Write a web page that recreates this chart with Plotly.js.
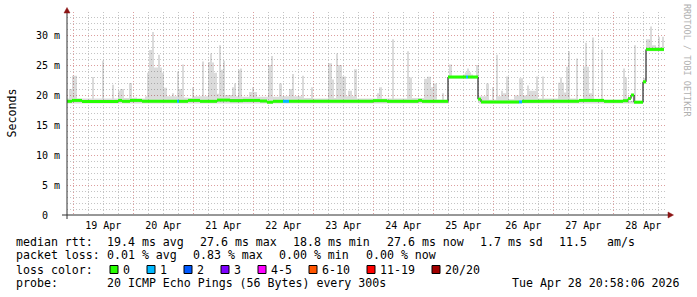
<!DOCTYPE html>
<html><head><meta charset="utf-8">
<script src="https://cdn.plot.ly/plotly-3.0.1.min.js"></script>
<style>html,body{margin:0;padding:0;background:#fff}#chart{width:697px;height:297px}</style>
</head><body><div id="chart"></div>
<script>
// ---------------- data ----------------
const windowStartUTC = Date.UTC(2026, 3, 18, 21, 29); // left edge of the 10-day window
const windowDays = 10;

// smoke (spread of the 20 pings) : segment edges in hours from window start
const smokeEdgeH = [
  0, 0.8, 2.0, 4.0, 10.0, 10.8, 14.0, 14.8, 18.0, 18.8,
  20.4, 21.2, 22.8, 24.8, 26.0, 26.8, 28.0, 31.2, 32.0, 32.8,
  34.0, 34.8, 36.4, 37.2, 38.0, 38.8, 40.0, 42.0, 42.8, 44.0,
  44.8, 46.0, 46.8, 48.4, 50.0, 50.8, 54.0, 54.8, 56.4, 57.2,
  58.0, 58.8, 60.0, 60.8, 61.6, 62.4, 63.2, 66.0, 66.8, 67.6,
  68.4, 69.2, 70.0, 72.8, 74.0, 74.8, 76.0, 80.4, 81.6, 82.4,
  84.8, 86.0, 88.8, 90.0, 90.8, 94.0, 94.8, 97.6, 98.4, 104.4,
  106.0, 106.8, 107.6, 108.4, 110.0, 111.6, 112.4, 114.0, 114.8, 116.0,
  124.0, 124.8, 126.0, 130.0, 130.8, 136.0, 136.8, 138.0, 142.8, 144.0,
  145.6, 146.4, 148.0, 150.0, 150.8, 152.8, 154.0, 158.4, 159.2, 160.0,
  160.8, 161.6, 162.4, 163.6, 164.8, 167.6, 168.8, 170.0, 170.8, 171.6,
  172.4, 173.6, 174.4, 175.6, 176.8, 178.8, 180.8, 182.4, 184.0, 184.8,
  187.6, 188.4, 190.0, 190.8, 196.4, 197.2, 198.0, 198.8, 199.6, 200.4,
  201.2, 203.6, 204.4, 206.4, 207.2, 208.0, 208.8, 210.0, 210.8, 213.6,
  214.4, 222.4, 223.2, 224.0, 226.8, 227.6, 230.4, 231.6, 232.4, 233.2,
  234.0, 235.6, 236.4, 237.2, 238.0, 238.8
];
// highest ping per segment (ms)
const smokeMaxMs = [
  19.4, 21.0, 23.2, 19.4, 23.0, 19.4, 25.7, 19.4, 21.7, 19.4,
  20.7, 21.0, 19.5, 22.0, 19.5, 19.6, 19.4, 19.8, 23.7, 27.5,
  30.5, 24.6, 26.7, 24.6, 23.7, 21.2, 19.8, 20.3, 19.8, 23.9,
  21.0, 25.1, 19.6, 19.5, 21.3, 19.8, 25.6, 19.8, 25.5, 26.9,
  25.4, 23.7, 20.2, 28.3, 24.2, 25.7, 20.0, 21.3, 21.9, 19.8,
  24.2, 24.4, 19.7, 20.5, 21.3, 20.5, 19.7, 25.0, 26.5, 19.7,
  21.9, 19.8, 21.0, 23.5, 19.8, 23.2, 19.5, 21.3, 19.4, 25.3,
  22.6, 19.5, 26.9, 25.0, 23.1, 19.8, 20.7, 19.8, 24.3, 19.4,
  20.3, 21.3, 19.4, 29.3, 19.4, 27.3, 22.9, 19.5, 22.7, 23.05,
  21.3, 21.9, 19.2, 20.3, 19.2, 25.1, 23.1, 23.4, 23.8, 24.4,
  23.8, 23.4, 23.1, 25.0, 19.8, 21.9, 19.2, 21.3, 19.2, 26.7,
  19.8, 20.7, 20.3, 23.1, 19.3, 19.9, 22.8, 19.9, 21.6, 20.7,
  23.1, 19.4, 23.1, 19.4, 22.05, 22.9, 22.05, 20.4, 24.7, 27.3,
  19.4, 26.1, 19.2, 24.7, 28.7, 24.7, 20.3, 29.6, 19.2, 27.6,
  19.2, 24.4, 22.9, 19.0, 28.3, 18.8, 22.8, 29.3, 29.3, 31.4,
  28.3, 28.0, 29.7, 28.0, 29.7
];
// lowest ping per segment (ms)
const smokeMinMs = [
  18.6, 18.6, 18.6, 18.6, 18.6, 18.6, 18.6, 18.6, 18.6, 18.6,
  18.6, 18.6, 18.6, 18.6, 18.6, 18.6, 18.6, 18.6, 18.6, 18.6,
  18.6, 18.6, 18.6, 18.6, 18.6, 18.6, 18.6, 18.6, 18.6, 18.6,
  18.6, 18.6, 18.6, 18.6, 18.6, 18.6, 18.6, 18.6, 18.6, 18.6,
  18.6, 18.6, 18.6, 18.6, 18.6, 18.6, 18.6, 18.6, 18.6, 18.6,
  18.6, 18.6, 18.6, 18.6, 18.6, 18.6, 18.6, 18.6, 18.6, 18.6,
  18.6, 18.6, 18.6, 18.6, 18.6, 18.6, 18.6, 18.6, 18.6, 18.6,
  18.6, 18.6, 18.6, 18.6, 18.6, 18.6, 18.6, 18.6, 18.6, 18.6,
  18.6, 18.6, 18.6, 18.6, 18.6, 18.6, 18.6, 18.6, 18.6, 18.6,
  18.6, 18.6, 18.6, 18.6, 18.6, 22.7, 22.7, 22.7, 22.7, 22.7,
  22.7, 22.7, 22.7, 22.7, 18.6, 18.6, 18.6, 18.6, 18.6, 18.6,
  18.6, 18.6, 18.6, 18.6, 18.6, 18.6, 18.6, 18.6, 18.6, 18.6,
  18.6, 18.6, 18.6, 18.6, 18.6, 18.6, 18.6, 18.6, 18.6, 18.6,
  18.6, 18.6, 18.6, 18.6, 18.6, 18.6, 18.6, 18.6, 18.6, 18.6,
  18.6, 18.6, 18.6, 18.6, 18.6, 18.6, 21.9, 27.3, 27.3, 27.3,
  27.3, 27.3, 27.3, 27.3, 27.3
];

// median rtt : segment edges (hours from window start), value (ms), lost pings
const medianEdgeH = [
  0, 2.0, 6.0, 20.4, 22.0, 25.2, 30.0, 44.0, 44.8, 48.4,
  53.2, 60.0, 65.2, 70.4, 77.2, 80.0, 82.4, 86.4, 88.8, 122.4,
  128.0, 140.4, 142.0, 152.4, 159.6, 160.4, 164.4, 165.6, 180.8, 182.0,
  190.8, 204.8, 214.8, 222.4, 224.4, 225.6, 226.8, 230.4, 231.6, 238.8
];
const medianMs = [
  18.95, 19.1, 18.9, 19.1, 18.95, 19.1, 18.95, 18.95, 18.95, 19.1,
  18.95, 19.15, 19.05, 19.1, 19.0, 18.8, 18.95, 18.95, 18.95, 19.05,
  18.95, 19.1, 18.95, 23.0, 23.0, 23.0, 19.3, 18.85, 18.85, 18.95,
  18.95, 19.1, 18.95, 19.05, 19.4, 20.0, 18.8, 22.2, 27.6
];
const medianLoss = [
  0, 0, 0, 0, 0, 0, 0, 1, 0, 0,
  0, 0, 0, 0, 0, 0, 0, 1, 0, 0,
  0, 0, 0, 0, 1, 0, 0, 0, 1, 0,
  0, 0, 0, 0, 0, 0, 0, 0, 0
];

const yTickVals = [0, 5, 10, 15, 20, 25, 30];
const yTickText = ['0\u00a0\u00a0', '5 m', '10 m', '15 m', '20 m', '25 m', '30 m'];

const lossLabels = ['0', '1', '2', '3', '4-5', '6-10', '11-19', '20/20'];
const lossColors = ['#26ff00', '#00b8ff', '#0059ff', '#7e00ff', '#ff00ff', '#ff5500', '#ff0000', '#a10000'];

const rowRtt = ['median rtt:', '19.4 ms avg', '27.6 ms max', '18.8 ms min', '27.6 ms now', '1.7 ms sd', '11.5', 'am/s'];
const rowLoss = ['packet loss:', '0.01 % avg', '0.83 % max', '0.00 % min', '0.00 % now'];
const rowProbe = ['probe:', '20 ICMP Echo Pings (56 Bytes) every 300s'];
const stampText = 'Tue Apr 28 20:58:06 2026';
const sideText = 'RRDTOOL / TOBI OETIKER';
const yTitle = 'Seconds';

// ---------------- layout constants ----------------
const W = 697, H = 297;
const PL = 67, PR = 667, PT = 12, PB = 215;
const pw = PR - PL, ph = PB - PT;
const yMax = ph / 6;           // 6 px per ms
const HOUR = 3600000;
const t = h => windowStartUTC + h * HOUR;
const px = x => (x - PL) / pw;
const py = y => (PB - y) / ph;
const MONO = 'DejaVu Sans Mono';
const CW = 7.0;  // legend character advance
const LFS = 11.6;

// ---------------- traces ----------------
const traces = [];
// smoke polygon
{
  const xs = [], ys = [];
  const n = Math.min(smokeMaxMs.length, smokeEdgeH.length - 1);
  for (let i = 0; i < n; i++) {
    xs.push(t(smokeEdgeH[i]), t(smokeEdgeH[i + 1]));
    ys.push(smokeMaxMs[i] / 1000 * 1000, smokeMaxMs[i]);
  }
  for (let i = n - 1; i >= 0; i--) {
    xs.push(t(smokeEdgeH[i + 1]), t(smokeEdgeH[i]));
    ys.push(smokeMinMs[i], smokeMinMs[i]);
  }
  traces.push({x: xs, y: ys, type: 'scatter', mode: 'lines', fill: 'toself',
    fillcolor: 'rgba(0,0,0,0.14)', line: {width: 0}, hoverinfo: 'skip'});
}
// median black line
{
  const xs = [], ys = [];
  for (let i = 0; i < medianMs.length; i++) {
    xs.push(t(medianEdgeH[i]), t(medianEdgeH[i + 1]));
    ys.push(medianMs[i], medianMs[i]);
  }
  traces.push({x: xs, y: ys, type: 'scatter', mode: 'lines',
    line: {color: '#000', width: 1}, hoverinfo: 'skip'});
}
// loss-coloured median bands
[0, 1].forEach(k => {
  const xs = [], ys = [];
  for (let i = 0; i < medianMs.length; i++) {
    if (medianLoss[i] !== k) continue;
    xs.push(t(medianEdgeH[i]), t(medianEdgeH[i + 1]), null);
    ys.push(medianMs[i], medianMs[i], null);
  }
  traces.push({x: xs, y: ys, type: 'scatter', mode: 'lines',
    line: {color: lossColors[k], width: 3}, hoverinfo: 'skip'});
});

// ---------------- shapes & annotations ----------------
const shapes = [];
const ann = [];
const AX = '#303030', ARROW = '#8c1414';
shapes.push({type: 'line', xref: 'paper', yref: 'paper', x0: px(62), x1: px(668), y0: py(215), y1: py(215), line: {color: AX, width: 1}, layer: 'above'});
shapes.push({type: 'line', xref: 'paper', yref: 'paper', x0: px(67), x1: px(67), y0: py(219), y1: py(11), line: {color: AX, width: 1}, layer: 'above'});
shapes.push({type: 'path', xref: 'paper', yref: 'paper', layer: 'above',
  path: `M ${px(64)} ${py(13)} L ${px(70)} ${py(13)} L ${px(67)} ${py(7.5)} Z`, fillcolor: ARROW, line: {color: ARROW, width: 0.5}});
shapes.push({type: 'path', xref: 'paper', yref: 'paper', layer: 'above',
  path: `M ${px(668)} ${py(212)} L ${px(668)} ${py(218)} L ${px(673.5)} ${py(215)} Z`, fillcolor: ARROW, line: {color: ARROW, width: 0.5}});

function txt(s, x, y, opts = {}) {
  ann.push(Object.assign({text: s.replace(/ /g, '\u00a0'), xref: 'paper', yref: 'paper', x: px(x), y: py(y),
    xanchor: 'left', yanchor: 'middle', showarrow: false, borderpad: 0,
    font: {family: MONO, size: LFS, color: '#000'}}, opts));
}
const rttX = [16, 106.7, 200, 293.3, 386.7, 480, 559, 607.3];
rowRtt.forEach((s, i) => txt(s, rttX[i] - 1, 241.5));
const lossX = [16, 106.7, 193.3, 279.3, 366];
rowLoss.forEach((s, i) => txt(s, lossX[i] - 1, 255));
txt('loss color:', 15, 269.5);
{
  let x = 123;
  lossLabels.forEach((lab, i) => {
    shapes.push({type: 'rect', xref: 'paper', yref: 'paper', layer: 'above',
      x0: px(x - 13), x1: px(x - 5), y0: py(273.5), y1: py(265.5),
      fillcolor: lossColors[i], line: {color: '#000', width: 1}});
    txt(lab, x - 1, 269.5);
    x += lab.length * CW + 30;
  });
}
txt(rowProbe[0], 15, 283);
txt(rowProbe[1], 105.7, 283);
txt(stampText, 681, 283, {xanchor: 'right'});
ann.push({text: yTitle, xref: 'paper', yref: 'paper', x: px(11), y: py(113.5), xanchor: 'center', yanchor: 'middle',
  textangle: -90, showarrow: false, font: {family: MONO, size: 11.6, color: '#000'}});
ann.push({text: sideText.replace(/ /g, '\u00a0'), xref: 'paper', yref: 'paper', x: px(687), y: py(60), xanchor: 'center', yanchor: 'middle',
  textangle: 90, showarrow: false, font: {family: MONO, size: 8.5, color: '#b0b0b0'}});

const MAJ = '#dc9e9e', MIN = '#c4c4c4', DASH = '1px,2px';
const layout = {
  width: W, height: H,
  margin: {l: PL, r: W - PR, t: PT, b: H - PB, pad: 0},
  paper_bgcolor: '#fff', plot_bgcolor: '#fff',
  showlegend: false, hovermode: false,
  font: {family: MONO, size: 10, color: '#000'},
  xaxis: {
    type: 'date', range: [t(0), t(windowDays * 24)],
    tick0: Date.UTC(2026, 3, 19), dtick: 86400000, tickformat: '%d %b', ticklabelmode: 'period',
    showgrid: true, gridcolor: MAJ, griddash: DASH, gridwidth: 1,
    minor: {dtick: 6 * HOUR, tick0: Date.UTC(2026, 3, 19), showgrid: true, gridcolor: MIN, griddash: DASH, gridwidth: 1},
    zeroline: false, showline: false, ticks: '', ticklabelstandoff: 3,
    tickfont: {family: MONO, size: 10, color: '#000'}, fixedrange: true
  },
  yaxis: {
    range: [0, yMax], tickvals: yTickVals, ticktext: yTickText,
    showgrid: true, gridcolor: MAJ, griddash: DASH, gridwidth: 1,
    minor: {dtick: 1, showgrid: true, gridcolor: MIN, griddash: DASH, gridwidth: 1},
    zeroline: false, showline: false, ticks: '', ticklabelstandoff: 6,
    tickfont: {family: MONO, size: 10, color: '#000'}, fixedrange: true
  },
  shapes: shapes, annotations: ann
};
Plotly.newPlot('chart', traces, layout, {staticPlot: true, displayModeBar: false});
</script>
</body></html>
